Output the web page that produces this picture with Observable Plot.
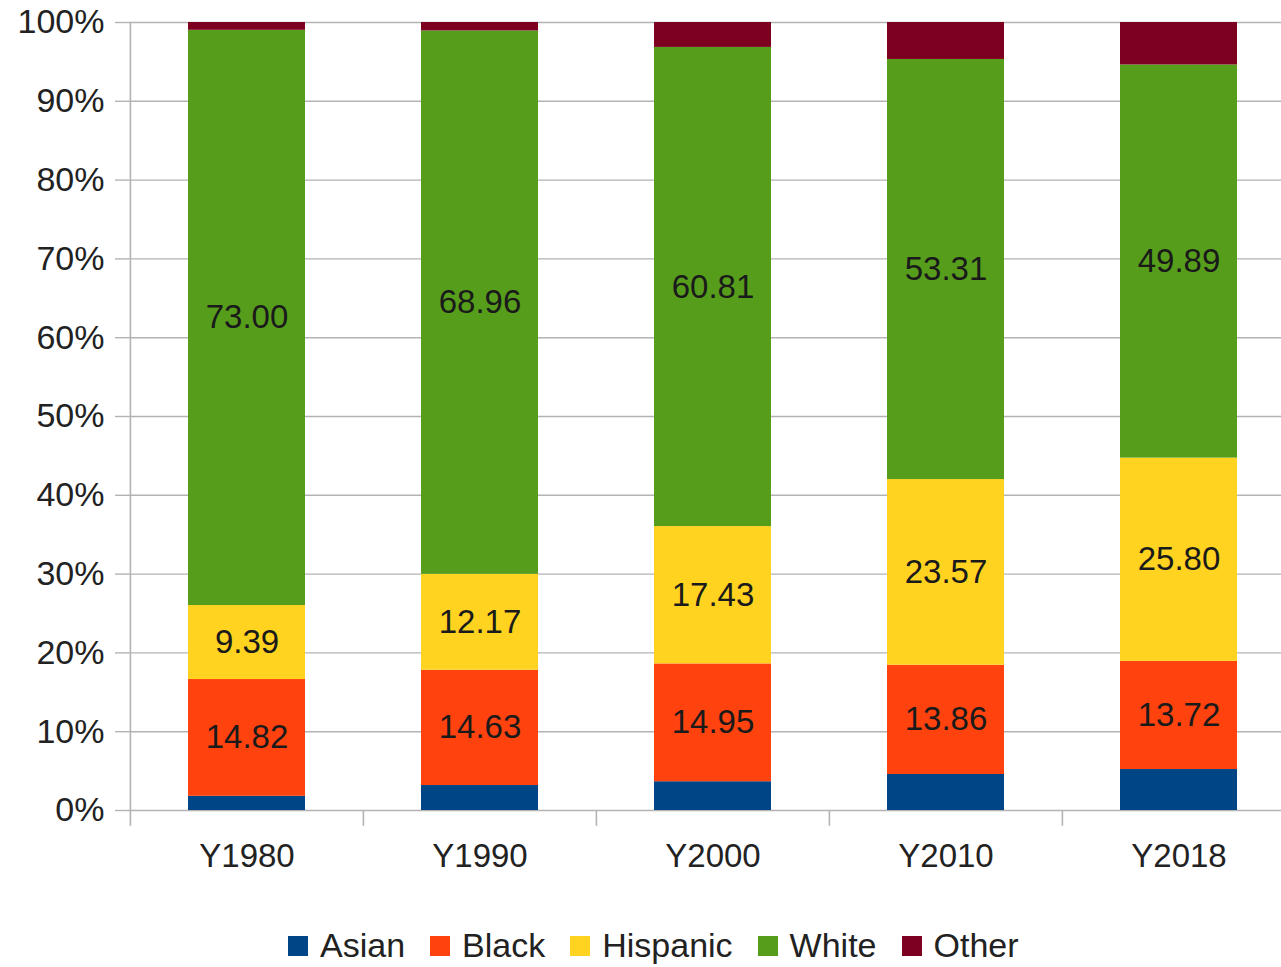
<!DOCTYPE html>
<html>
<head>
<meta charset="utf-8">
<script src="https://cdn.jsdelivr.net/npm/d3@7"></script>
<script src="https://cdn.jsdelivr.net/npm/@observablehq/plot@0.6"></script>
<style>
  html, body { margin: 0; padding: 0; background: #fff; overflow: hidden; width: 1281px; height: 967px; }
  body { position: relative; font-family: "Liberation Sans", Arial, sans-serif; }
  #chart { position: absolute; left: 0; top: 0; width: 1281px; height: 880px; overflow: hidden; }
  #legend { position: absolute; left: 288px; top: 926px; display: flex; align-items: center; font-size: 34px; color: #222; white-space: nowrap; }
  .item { display: flex; align-items: center; margin-right: 25px; }
  .sw { width: 20px; height: 20px; margin-right: 12px; }
</style>
</head>
<body>
<div id="chart"></div>
<div id="legend"></div>
<script>
const categories = ["Y1980", "Y1990", "Y2000", "Y2010", "Y2018"];
const races = ["Asian", "Black", "Hispanic", "White", "Other"];
const colors = ["#004586", "#ff420e", "#ffd320", "#579d1c", "#7e0021"];
const asian    = [1.80, 3.17, 3.65, 4.57, 5.20];
const black    = [14.82, 14.63, 14.95, 13.86, 13.72];
const hispanic = [9.39, 12.17, 17.43, 23.57, 25.80];
const white    = [73.00, 68.96, 60.81, 53.31, 49.89];
const other    = [0.99, 1.07, 3.16, 4.69, 5.39];
const labeled  = ["Black", "Hispanic", "White"];
const yTicks   = [0, 10, 20, 30, 40, 50, 60, 70, 80, 90, 100];

const series = {Asian: asian, Black: black, Hispanic: hispanic, White: white, Other: other};
const data = [];
categories.forEach((c, i) => {
  races.forEach(r => data.push({year: c, race: r, value: series[r][i]}));
});

const W = 1295, H = 880, ML = 129, MR = 0, MT = 22, MB = 70;
const step = (W - ML - MR) / categories.length;
const font = "'Liberation Sans', Arial, sans-serif";
const grey = "#b3b3b3";

const chart = Plot.plot({
  width: W, height: H,
  marginLeft: ML, marginRight: MR, marginTop: MT, marginBottom: MB,
  style: {fontFamily: font, background: "#fff", color: "#222", overflow: "visible", maxWidth: "none"},
  x: {domain: categories, paddingInner: 0.5, paddingOuter: 0.25},
  y: {domain: [0, 100]},
  color: {domain: races, range: colors},
  marks: [
    Plot.gridY(yTicks, {stroke: grey, strokeOpacity: 1, strokeWidth: 1.4}),
    Plot.axisY(yTicks, {tickSize: 14, tickPadding: 11, stroke: grey, strokeWidth: 1.4, strokeOpacity: 1,
      tickFormat: d => d + "%", fontSize: 34, fill: "#222", label: null}),
    Plot.ruleX([categories[0]], {x: d => d, dx: -step / 2, y1: -2, y2: 100, stroke: grey, strokeWidth: 1.6}),
    Plot.ruleX(categories.slice(1), {x: d => d, dx: -step / 2, y1: -2, y2: 0, stroke: grey, strokeWidth: 1.6}),
    Plot.barY(data, Plot.stackY({x: "year", y: "value", fill: "race", z: "race", order: races})),
    Plot.text(data, Plot.stackY({x: "year", y: "value", z: "race", order: races,
      text: d => labeled.includes(d.race) ? d.value.toFixed(2) : "",
      fontSize: 33, fill: "#1a1a1a"})),
    Plot.axisX({tickSize: 0, tickPadding: 33, fontSize: 33, fill: "#222", label: null})
  ]
});
document.getElementById("chart").appendChild(chart);

const legend = document.getElementById("legend");
races.forEach((r, i) => {
  const it = document.createElement("div");
  it.className = "item";
  const sw = document.createElement("span");
  sw.className = "sw";
  sw.style.background = colors[i];
  const t = document.createElement("span");
  t.textContent = r;
  it.appendChild(sw); it.appendChild(t);
  legend.appendChild(it);
});
</script>
</body>
</html>
